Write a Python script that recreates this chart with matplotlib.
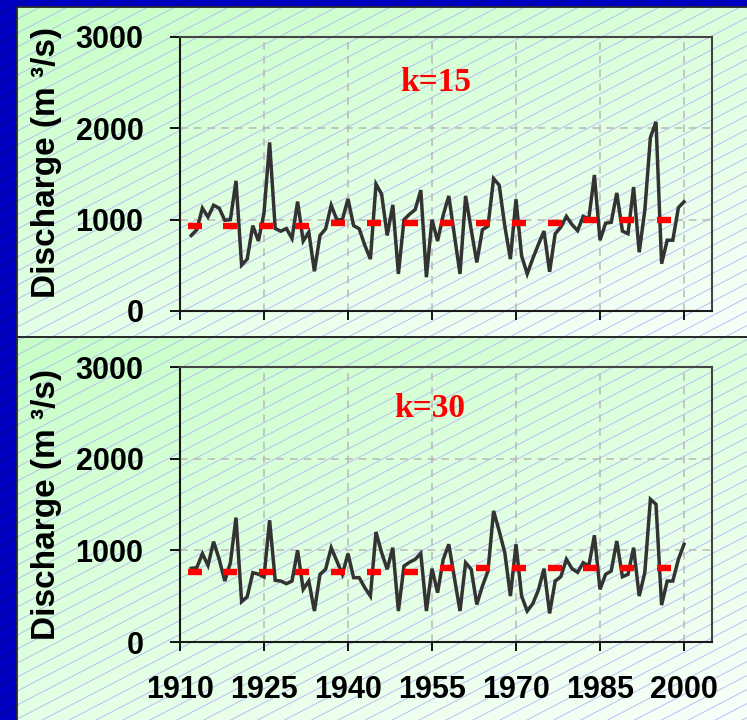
import numpy as np
import matplotlib
matplotlib.use('Agg')
import matplotlib.pyplot as plt
from matplotlib.collections import LineCollection
from matplotlib.patches import Rectangle

# ---------------- data ----------------
years = list(range(1912, 2001))

q_k15 = [827, 890, 1126, 1029, 1158, 1126, 993, 1000, 1425, 503,
         568, 935, 766, 1072, 1846, 903, 874, 903, 795, 1198,
         766, 863, 435, 827, 899, 1158, 1000, 1000, 1227, 935,
         900, 720, 568, 1389, 1280, 827, 1162, 406, 1000, 1060,
         1110, 1324, 370, 1000, 766, 1050, 1260, 830, 406, 1260,
         890, 532, 890, 930, 1450, 1378, 930, 568, 1223, 604,
         406, 575, 729, 875, 429, 846, 918, 1036, 946, 880,
         1036, 1010, 1489, 775, 961, 971, 1293, 875, 846, 1357,
         643, 1100, 1900, 2071, 518, 775, 775, 1132, 1196]

q_k30 = [803, 811, 964, 836, 1095, 902, 665, 865, 1357, 440,
         494, 756, 740, 709, 1328, 672, 665, 636, 665, 1000,
         574, 665, 338, 738, 793, 1029, 884, 738, 964, 702,
         702, 592, 501, 1200, 975, 793, 1029, 338, 829, 870,
         902, 967, 338, 800, 538, 900, 1066, 700, 338, 865,
         793, 410, 610, 774, 1430, 1210, 975, 501, 1066, 501,
         338, 418, 567, 800, 312, 665, 712, 902, 800, 760,
         865, 829, 1164, 574, 738, 774, 1102, 712, 738, 1029,
         501, 756, 1557, 1502, 403, 665, 665, 902, 1066]

seg_years = [1912.6, 1919.0, 1925.4, 1931.8, 1938.2, 1944.7, 1951.25,
             1957.7, 1964.1, 1970.5, 1976.9, 1983.3, 1989.75, 1996.35]
seg_k15 = [932, 932, 932, 932, 964, 964, 964, 964, 964, 964, 964, 1000, 1000, 1000]
seg_k30 = [767, 767, 767, 767, 767, 767, 767, 803, 803, 803, 803, 803, 803, 803]

x_ticks = [1910, 1925, 1940, 1955, 1970, 1985, 2000]
y_ticks = [0, 1000, 2000, 3000]
panel_labels = ['k=15', 'k=30']
label_pos = [(1955.6, 2412), (1954.6, 2457)]
y_label = 'Discharge (m \u00b3/s)'

# ---------------- figure ----------------
plt.rcParams['font.family'] = ['Liberation Sans', 'DejaVu Sans']
plt.rcParams['font.weight'] = 'bold'

W, H = 747, 720
fig = plt.figure(figsize=(W / 100, H / 100), dpi=100)

# background (pixel coordinates, y downwards)
bg = fig.add_axes([0, 0, 1, 1], zorder=-10)
bg.axis('off')
bg.add_patch(Rectangle((0, 0), W, H, color='#0000c2', zorder=0))

SLOPE = 0.52
SP = 14


def hatch(clip, color, lw, z):
    segs = []
    for c in np.arange(0, H + SLOPE * W + SP, SP):
        segs.append([(0, c), (W, c - SLOPE * W)])
    lc = LineCollection(segs, colors=color, linewidths=lw, zorder=z)
    bg.add_collection(lc)
    lc.set_clip_path(clip)


blue_clip = Rectangle((0, 0), W, H, transform=bg.transData, facecolor='none', edgecolor='none')
bg.add_patch(blue_clip)
hatch(blue_clip, '#000090', 0.7, 1)

panels = [(17, 7, W + 2, 337), (17, 337, W + 2, H + 2)]
c0 = np.array([0.78, 1.0, 0.78])
c1 = np.array([0.97, 1.0, 0.98])
for (x0, y0, x1, y1) in panels:
    u = np.linspace(0, 1, 120)[None, :]
    v = np.linspace(0, 1, 120)[:, None]
    t = np.clip(0.4 * u + 0.6 * v, 0, 1)[..., None]
    img = c0 * (1 - t) + c1 * t
    bg.imshow(img, extent=(x0, x1, y1, y0), origin='upper', zorder=2,
              aspect='auto', interpolation='bilinear')
    rect = Rectangle((x0, y0), x1 - x0, y1 - y0, facecolor='none',
                     edgecolor='#2a2a2a', lw=1.3, zorder=4)
    bg.add_patch(rect)
    clip = Rectangle((x0, y0), x1 - x0, y1 - y0, transform=bg.transData,
                     facecolor='none', edgecolor='none')
    bg.add_patch(clip)
    hatch(clip, '#b2b6f2', 0.6, 3)

bg.set_xlim(0, W)
bg.set_ylim(H, 0)

# ---------------- data axes ----------------
rects = [[180 / W, 1 - 311 / H, (712 - 180) / W, (311 - 37) / H],
         [180 / W, 1 - 642 / H, (712 - 180) / W, (642 - 367) / H]]
series = [q_k15, q_k30]
segs = [seg_k15, seg_k30]
ylab_y = [162, 505]

for i in range(2):
    ax = fig.add_axes(rects[i])
    ax.set_facecolor('none')
    ax.set_xlim(1910, 2005)
    ax.set_ylim(0, 3000)
    ax.set_axisbelow(True)
    ax.grid(True, color='#b8b8b8', ls=(0, (5, 4)), lw=1.1)
    ax.plot(years, series[i], color='#333333', lw=2.5, zorder=3,
            solid_joinstyle='miter')
    ax.plot(seg_years, segs[i], ls='none', marker='_', ms=9.4, mew=4.6,
            color='#ff0000', zorder=4)
    ax.set_xticks(x_ticks)
    ax.set_yticks(y_ticks)
    ax.tick_params(axis='y', direction='out', length=7.2, width=1.3,
                   labelsize=22, pad=19)
    ax.tick_params(axis='x', direction='out', length=6.5, width=1.3,
                   labelsize=22, pad=17)
    if i == 0:
        ax.tick_params(axis='x', labelbottom=False)
    for lab in ax.get_xticklabels() + ax.get_yticklabels():
        lab.set_fontweight('bold')
    for s in ax.spines.values():
        s.set_linewidth(1.5)
        s.set_color('#1a1a1a')
    for s in ('top', 'right'):
        ax.spines[s].set_color('#444444')
    ax.text(label_pos[i][0], label_pos[i][1], panel_labels[i],
            family=['Liberation Serif', 'DejaVu Serif'], fontweight='bold',
            color='#ff0000', fontsize=24, ha='center', va='baseline', zorder=5)
    fig.text(47 / W, 1 - ylab_y[i] / H, y_label, rotation=90, ha='center',
             va='center', fontsize=24, fontweight='bold', color='black')

fig.savefig('out.png', dpi=100)
